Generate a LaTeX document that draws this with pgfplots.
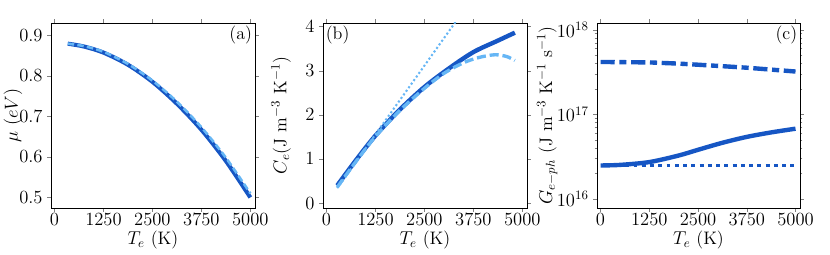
\documentclass[border=0pt]{standalone}
\usepackage{pgfplots}
\pgfplotsset{compat=1.18}
\definecolor{dk}{RGB}{22,86,196}
\definecolor{lt}{RGB}{102,182,245}
\newcommand{\bigf}{\fontsize{14}{16}\selectfont}
\pgfplotsset{
  panel/.style={
    scale only axis, width=158pt, height=143.4pt,
    tick align=outside, major tick length=3pt, minor tick length=1.8pt,
    xmin=-90, xmax=5115,
    xtick={0,1250,2500,3750,5000},
    xticklabel style={/pgf/number format/1000 sep={}, yshift=2pt},
    tick label style={font=\bigf},
    label style={font=\bigf},
    xlabel={$T_e$ (K)},
    xlabel style={at={(axis description cs:0.5,-0.175)}, anchor=center},
    every axis plot/.append style={line cap=butt},
  }
}
\begin{document}
\begin{tikzpicture}
\useasboundingbox (0,0) rectangle (643.25pt,197.6pt);
% (a)
\begin{axis}[panel, at={(39.5pt,36.4pt)}, anchor=south west,
  ymin=0.474, ymax=0.93, ytick={0.5,0.6,0.7,0.8,0.9},
  yticklabel style={/pgf/number format/.cd,fixed,fixed zerofill,precision=1},
  ylabel={$\mu$ $(eV)$}, ylabel style={at={(axis description cs:-0.186,0.5)}, anchor=center}]
\addplot[dk, line width=3.2pt, smooth] coordinates {
(339,0.879) (750,0.872) (1250,0.857) (1875,0.827) (2500,0.785) (3125,0.731) (3750,0.667) (4375,0.590) (5000,0.500)};
\addplot[lt, line width=2pt, smooth, dash pattern=on 5pt off 2.5pt] coordinates {
(339,0.879) (750,0.873) (1250,0.859) (1875,0.829) (2500,0.788) (3125,0.736) (3750,0.673) (4375,0.598) (5000,0.510)};
\node[anchor=north east, font=\bigf, inner sep=2pt] at (rel axis cs:1,1) {(a)};
\end{axis}
% (b)
\begin{axis}[panel, at={(250.3pt,36.4pt)}, anchor=south west,
  ymin=-0.11, ymax=4.08, ytick={0,1,2,3,4}, scaled y ticks=false,
  ylabel={$C_e$(J m$^{-3}$ K$^{-1}$)}, ylabel style={at={(axis description cs:-0.205,0.5)}, anchor=center}, clip=true]
\addplot[dk, line width=3.4pt, smooth] coordinates {
(274,0.40) (750,0.97) (1250,1.53) (1875,2.12) (2500,2.63) (3125,3.05) (3750,3.42) (4375,3.68) (4810,3.86)};
\addplot[lt, line width=2.6pt, smooth, dash pattern=on 7pt off 3pt] coordinates {
(274,0.36) (750,0.94) (1250,1.51) (1875,2.10) (2500,2.60) (3000,2.94) (3500,3.18) (3900,3.30) (4300,3.36) (4600,3.32) (4810,3.23)};
\addplot[lt, line width=1.6pt, dash pattern=on 1.6pt off 1.8pt] coordinates {
(274,0.34) (3300,4.11)};
\node[anchor=north west, inner sep=2pt, font=\bigf] at (rel axis cs:0,1) {(b)};
\node[anchor=south west, inner sep=0.5pt, xshift=-4pt, font=\bigf] at (rel axis cs:0,1) {$\times10^4$};
\end{axis}
% (c)
\begin{axis}[panel, at={(462.7pt,36.4pt)}, anchor=south west, width=157.3pt,
  ymode=log, ymin=7.8e15, ymax=1.2e18, ytick={1e16,1e17,1e18},
  ylabel={$G_{e-ph}$ (J m$^{-3}$ K$^{-1}$ s$^{-1}$)}, ylabel style={at={(axis description cs:-0.245,0.5)}, anchor=center}]
\addplot[dk, line width=3.4pt, dash pattern=on 11pt off 3.6pt on 5.5pt off 3.6pt] coordinates {
(0,4.15e17) (1250,4.1e17) (2000,3.97e17) (2500,3.85e17) (3125,3.7e17) (3750,3.55e17) (4375,3.37e17) (5000,3.2e17)};
\addplot[dk, line width=3.4pt, smooth] coordinates {
(0,2.48e16) (500,2.52e16) (1250,2.72e16) (2000,3.25e16) (2500,3.8e16) (3125,4.6e16) (3750,5.4e16) (4375,6.1e16) (5000,6.75e16)};
\addplot[dk, line width=3pt, dash pattern=on 3pt off 3.4pt] coordinates {
(0,2.48e16) (5000,2.48e16)};
\node[anchor=north east, font=\bigf, inner sep=2pt] at (rel axis cs:1,1) {(c)};
\end{axis}
\end{tikzpicture}
\end{document}
